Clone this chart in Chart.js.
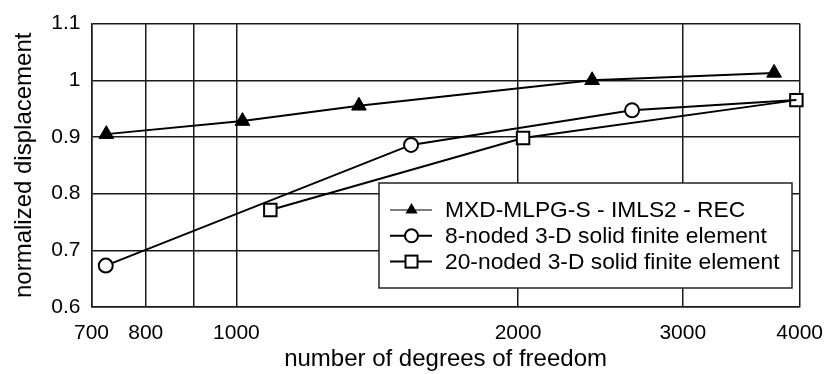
<!DOCTYPE html>
<html>
<head>
<meta charset="utf-8">
<script src="https://cdn.jsdelivr.net/npm/chart.js@4/dist/chart.umd.min.js"></script>
<style>
  html, body { margin: 0; padding: 0; background: #fff; }
  #wrap { width: 837px; height: 374px; }
</style>
</head>
<body>
<div id="wrap"><canvas id="dofChart" width="837" height="374"></canvas></div>
<script>
// data
const mxdDof = [726, 1015, 1352, 2400, 3756];
const mxdDisp = [0.905, 0.928, 0.955, 1.0, 1.013];

const hex8Dof = [725, 1537, 2648, 3968];
const hex8Disp = [0.673, 0.886, 0.947, 0.965];

const hex20Dof = [1087, 2025, 3968];
const hex20Disp = [0.771, 0.898, 0.965];

const seriesNames = [
  "MXD-MLPG-S - IMLS2 - REC",
  "8-noded 3-D solid finite element",
  "20-noded 3-D solid finite element",
];

const xGridValues = [700, 800, 900, 1000, 2000, 3000, 4000];
const xTickLabels = [700, 800, 1000, 2000, 3000, 4000];

const FONT = "'Liberation Sans', Arial, sans-serif";

function toPoints(xs, ys) {
  return xs.map((x, i) => ({ x: x, y: ys[i] }));
}

// legend drawn inside the plot, like the original figure
const insideLegend = {
  id: "insideLegend",
  afterDatasetsDraw(chart) {
    const ctx = chart.ctx;
    const bx = 379, by = 183, bw = 413, bh = 105;
    ctx.save();
    ctx.fillStyle = "#fff";
    ctx.fillRect(bx, by, bw, bh);
    ctx.strokeStyle = "#222";
    ctx.lineWidth = 1.5;
    ctx.strokeRect(bx, by, bw, bh);

    chart.data.datasets.forEach((ds, i) => {
      const y = 210 + i * 25.8;
      const mx = 411.5;
      ctx.strokeStyle = "#000";
      ctx.lineWidth = i === 0 ? 1.2 : 2;
      ctx.beginPath();
      ctx.moveTo(390, y);
      ctx.lineTo(432, y);
      ctx.stroke();

      ctx.lineWidth = 2;
      if (ds.pointStyle === "triangle") {
        const r = 7;
        ctx.fillStyle = "#000";
        ctx.beginPath();
        ctx.moveTo(mx, y - r);
        ctx.lineTo(mx + r * 0.866, y + r / 2);
        ctx.lineTo(mx - r * 0.866, y + r / 2);
        ctx.closePath();
        ctx.fill();
      } else if (ds.pointStyle === "circle") {
        ctx.fillStyle = "#fff";
        ctx.beginPath();
        ctx.arc(mx, y, 6.5, 0, Math.PI * 2);
        ctx.fill();
        ctx.stroke();
      } else {
        ctx.fillStyle = "#fff";
        ctx.fillRect(mx - 6, y - 6, 12, 12);
        ctx.strokeRect(mx - 6, y - 6, 12, 12);
      }

      ctx.fillStyle = "#000";
      ctx.font = "22.8px " + FONT;
      ctx.textBaseline = "middle";
      ctx.textAlign = "left";
      ctx.fillText(ds.label, 445, y + 1);
    });
    ctx.restore();
  },
};

const ctx = document.getElementById("dofChart").getContext("2d");
const chart = new Chart(ctx, {
  type: "line",
  data: {
    datasets: [
      {
        label: seriesNames[0],
        data: toPoints(mxdDof, mxdDisp),
        borderColor: "#000",
        borderWidth: 2,
        pointStyle: "triangle",
        pointRadius: 8.5,
        pointBorderWidth: 1,
        pointBackgroundColor: "#000",
        pointBorderColor: "#000",
      },
      {
        label: seriesNames[1],
        data: toPoints(hex8Dof, hex8Disp),
        borderColor: "#000",
        borderWidth: 2,
        pointStyle: "circle",
        pointRadius: [7, 7, 7, 0],
        pointBorderWidth: 2,
        pointBackgroundColor: "#fff",
        pointBorderColor: "#000",
      },
      {
        label: seriesNames[2],
        data: toPoints(hex20Dof, hex20Disp),
        borderColor: "#000",
        borderWidth: 2,
        pointStyle: "rect",
        pointRadius: 8.8,
        pointBorderWidth: 2,
        pointBackgroundColor: "#fff",
        pointBorderColor: "#000",
      },
    ],
  },
  options: {
    responsive: false,
    animation: false,
    clip: false,
    layout: { padding: { left: 0, right: 26, top: 18, bottom: 0 } },
    plugins: {
      legend: { display: false },
      tooltip: { enabled: false },
    },
    elements: { line: { tension: 0 } },
    scales: {
      x: {
        type: "logarithmic",
        min: 700,
        max: 4000,
        afterFit(scale) { scale.height = 67; },
        afterBuildTicks(scale) {
          scale.ticks = xGridValues.map((v) => ({ value: v }));
        },
        ticks: {
          autoSkip: false,
          maxRotation: 0,
          padding: 14,
          color: "#000",
          font: { family: FONT, size: 21 },
          callback: (v) => (xTickLabels.includes(v) ? String(v) : ""),
        },
        grid: { color: "#1a1a1a", lineWidth: 1.5, drawTicks: false },
        border: { color: "#1a1a1a", width: 1.5 },
        title: {
          display: true,
          text: "number of degrees of freedom",
          color: "#000",
          font: { family: FONT, size: 24 },
          padding: { top: 0, bottom: 0 },
        },
      },
      y: {
        min: 0.6,
        max: 1.1,
        afterFit(scale) { scale.width = 91.5; },
        ticks: {
          stepSize: 0.1,
          padding: 11,
          color: "#000",
          font: { family: FONT, size: 21 },
          callback: (v) => String(parseFloat(v.toFixed(1))),
        },
        grid: { color: "#1a1a1a", lineWidth: 1.5, drawTicks: false },
        border: { color: "#1a1a1a", width: 1.5 },
        title: {
          display: true,
          text: "normalized displacement",
          color: "#000",
          font: { family: FONT, size: 24 },
          padding: { top: 10, bottom: 0 },
        },
      },
    },
  },
  plugins: [insideLegend],
});
</script>
</body>
</html>
